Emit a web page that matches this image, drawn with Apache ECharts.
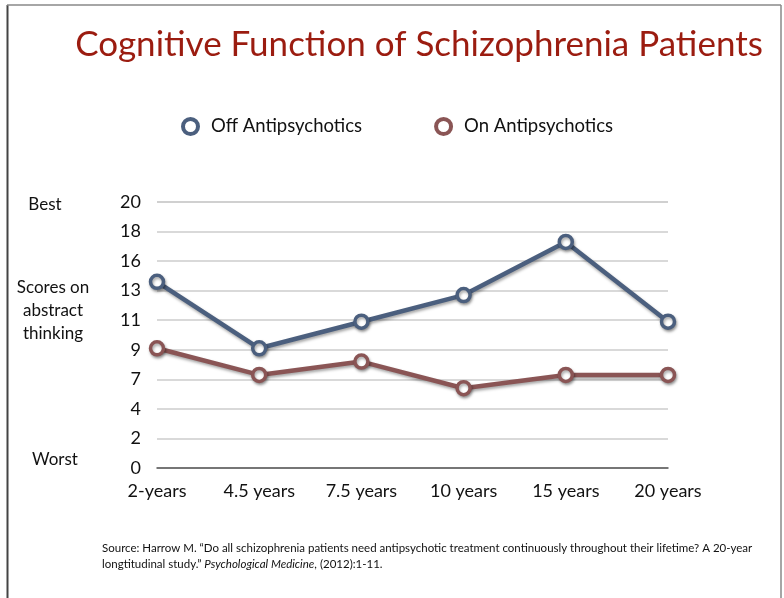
<!DOCTYPE html>
<html>
<head>
<meta charset="utf-8">
<script src="https://cdn.jsdelivr.net/npm/echarts@6/dist/echarts.min.js"></script>
<style>
html,body{margin:0;padding:0;background:#fff;}
#chart{width:784px;height:598px;}
</style>
</head>
<body>
<div id="chart"></div>
<script>
const categories = ['2-years', '4.5 years', '7.5 years', '10 years', '15 years', '20 years'];
const offValues = [14, 9, 11, 13, 17, 11];
const onValues = [9, 7, 8, 6, 7, 7];
const seriesNames = ['Off Antipsychotics', 'On Antipsychotics'];
const yMin = 0, yMax = 20, ySteps = 9;

const FONT = 'Lato, "Open Sans", sans-serif';
const offColor = '#4b5f7e';
const onColor = '#8a5555';

const chart = echarts.init(document.getElementById('chart'));

function lineSeries(name, data, color) {
  return {
    name: name,
    type: 'line',
    data: data,
    symbol: 'circle',
    symbolSize: 13,
    lineStyle: { color: color, width: 4.5, shadowColor: 'rgba(0,0,0,0.35)', shadowBlur: 3, shadowOffsetX: 1, shadowOffsetY: 2 },
    itemStyle: { color: '#ffffff', borderColor: color, borderWidth: 3.5, shadowColor: 'rgba(0,0,0,0.35)', shadowBlur: 3, shadowOffsetX: 1, shadowOffsetY: 2 },
    emphasis: { disabled: true },
    z: 3
  };
}

chart.setOption({
  backgroundColor: '#ffffff',
  animation: false,
  title: {
    text: 'Cognitive Function of Schizophrenia Patients',
    left: 414, top: 22, textAlign: 'center',
    textStyle: { color: '#9b1c10', fontFamily: FONT, fontWeight: 'normal', fontSize: 35 }
  },
  legend: {
    top: 112, left: 176,
    itemGap: 72,
    itemWidth: 15, itemHeight: 15,
    icon: 'circle',
    data: [
      { name: seriesNames[0], itemStyle: { color: '#fff', borderColor: offColor, borderWidth: 4 } },
      { name: seriesNames[1], itemStyle: { color: '#fff', borderColor: onColor, borderWidth: 4 } }
    ],
    textStyle: { fontFamily: FONT, fontSize: 18.5, color: '#111', padding: [0, 0, 0, 8] }
  },
  grid: { left: 157, right: 116, top: 202, bottom: 130, containLabel: false },
  xAxis: {
    type: 'category',
    data: categories,
    boundaryGap: false,
    axisLine: { show: true, lineStyle: { color: '#555', width: 1.5 } },
    axisTick: { show: false },
    axisLabel: { fontFamily: FONT, fontSize: 18, color: '#111', margin: 14 },
    splitLine: { show: false }
  },
  yAxis: {
    type: 'value',
    min: yMin, max: yMax,
    interval: (yMax - yMin) / ySteps,
    axisLine: { show: false },
    axisTick: { show: false },
    axisLabel: { fontFamily: FONT, fontSize: 18, color: '#111', margin: 16, formatter: v => String(Math.round(v)) },
    splitLine: { lineStyle: { color: '#cccccc', width: 1.5 } }
  },
  series: [
    lineSeries(seriesNames[0], offValues, offColor),
    lineSeries(seriesNames[1], onValues, onColor)
  ],
  graphic: [
    { type: 'line', shape: { x1: 7.5, y1: 5, x2: 7.5, y2: 598 }, style: { stroke: '#444', lineWidth: 2 } },
    { type: 'line', shape: { x1: 7, y1: 5, x2: 781, y2: 5 }, style: { stroke: '#888', lineWidth: 1.5 } },
    { type: 'line', shape: { x1: 781, y1: 5, x2: 781, y2: 598 }, style: { stroke: '#888', lineWidth: 1.5 } },
    { type: 'text', x: 45, y: 205, style: { text: 'Best', fontFamily: FONT, fontSize: 17, fill: '#111', align: 'center', verticalAlign: 'middle' } },
    { type: 'text', x: 53, y: 311, style: { text: 'Scores on\nabstract\nthinking', fontFamily: FONT, fontSize: 17, lineHeight: 23, fill: '#111', align: 'center', verticalAlign: 'middle' } },
    { type: 'text', x: 55, y: 460, style: { text: 'Worst', fontFamily: FONT, fontSize: 17, fill: '#111', align: 'center', verticalAlign: 'middle' } },
    { type: 'text', x: 102, y: 540, style: {
        text: 'Source: Harrow M. \u201cDo all schizophrenia patients need antipsychotic treatment continuously throughout their lifetime? A 20-year\n{n|longtitudinal study.\u201d }{i|Psychological Medicine}{n|, (2012):1-11.}',
        fontFamily: FONT, fontSize: 11.5, lineHeight: 16, fill: '#111',
        rich: { n: { fontFamily: FONT, fontSize: 11.5, fill: '#111' }, i: { fontFamily: FONT, fontSize: 11.5, fontStyle: 'italic', fill: '#111' } }
    } }
  ]
});
</script>
</body>
</html>
